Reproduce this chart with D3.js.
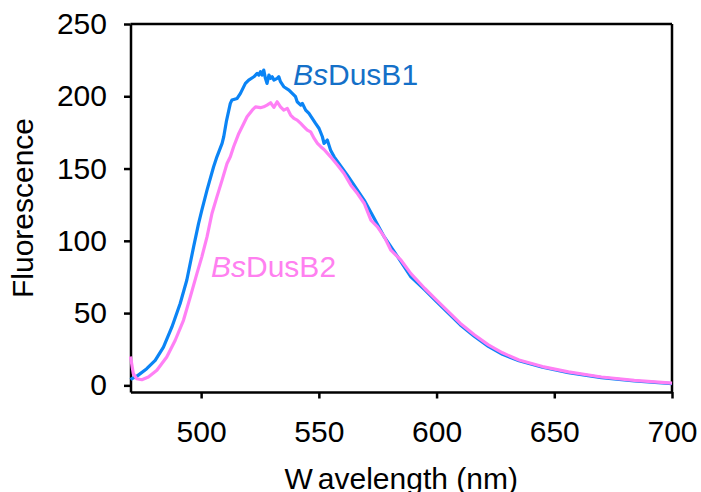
<!DOCTYPE html>
<html>
<head>
<meta charset="utf-8">
<script src="https://cdn.jsdelivr.net/npm/d3@7"></script>
<style>
  html, body { margin: 0; padding: 0; background: #fff; }
  svg { display: block; }
  text { font-family: "Liberation Sans", Arial, sans-serif; }
</style>
</head>
<body>
<svg id="chart" width="701" height="492"></svg>
<script>
// ---- Data ----
const wavelengthB1 = [470, 470.5, 472.6, 476.9, 480.5, 484.0, 487.6, 491.1, 493.9, 496.8, 498.9, 500.3, 502.5, 505.3, 506.7, 508.9, 509.6, 510.7,
  512.4, 513.1, 515.3, 516.7, 518.8, 520.2, 522.4, 523.8, 524.5, 525.2, 525.9, 526.6, 527.3, 528.0, 528.8, 529.5, 530.2, 530.9, 532.3, 533.0,
  533.7, 535.1, 537.3, 538.7, 540.1, 540.8, 542.3, 543.0, 544.4, 545.8, 547.2, 548.6, 550.1, 551.5, 552.2, 552.9, 553.6, 554.3, 555.0, 556.5,
  562.1, 569.3, 577.8, 583.5, 589.1, 595, 600, 605, 610, 616, 622, 628, 635, 645, 656, 670, 684, 700];
const fluorB1 = [4.0, 4.6, 6.2, 11.5, 17.3, 26.5, 40.4, 56.6, 72.7, 95.8, 111.9, 121.2, 135.0, 151.2, 158.1, 167.4, 172.0, 182.4,
  195.1, 197.4, 198.5, 202.0, 208.9, 211.2, 213.5, 215.8, 214.7, 217.0, 214.7, 218.1, 212.4, 208.9, 214.7, 212.4, 213.5, 211.2, 212.4, 213.5,
  210.1, 206.6, 204.3, 202.0, 199.7, 196.2, 193.9, 195.1, 190.4, 188.1, 184.7, 181.2, 177.7, 172.0, 167.4, 168.5, 169.7, 166.2, 162.7, 158.1,
  145.4, 128.0, 102.7, 88.9, 75.0, 66, 58, 50, 42, 34, 27, 21.5, 17, 12.5, 8.8, 5.3, 3.0, 1.2];

const wavelengthB2 = [470, 471.2, 472.6, 474.8, 477.6, 481.2, 485.4, 489.0, 492.5, 495.4, 498.2, 500.3, 502.5, 504.6, 506.7, 508.9, 511.0,
  512.4, 513.8, 516.0, 518.1, 519.5, 521.7, 523.1, 525.2, 526.6, 528.0, 529.5, 530.9, 532.3, 533.7, 535.1, 536.6, 538.0, 539.4, 540.8, 542.3,
  543.7, 545.1, 546.5, 548.0, 549.4, 550.8, 552.2, 555.0, 557.9, 560.7, 563.6, 566.4, 569.3, 572.1, 574.9, 577.8, 580.6, 584.9, 589.1,
  595, 600, 605, 610, 616, 622, 628, 635, 645, 656, 670, 684, 700];
const fluorB2 = [20.0, 8.1, 4.6, 3.9, 5.8, 10.4, 19.6, 31.2, 45.0, 61.2, 77.3, 88.9, 102.7, 118.9, 130.4, 142.0, 153.5,
  158.1, 165.1, 174.3, 181.2, 185.8, 190.4, 192.7, 192.1, 192.7, 193.9, 195.5, 192.3, 196.2, 192.7, 190.4, 191.6, 187.0, 184.7, 183.5, 181.2,
  178.9, 176.6, 175.4, 170.8, 167.4, 165.1, 163.2, 158.1, 152.4, 146.6, 138.5, 132.7, 125.8, 114.3, 109.7, 102.7, 93.5, 86.6, 77.3,
  67, 59, 51, 43, 35, 28, 22.5, 17.5, 13, 9.3, 5.8, 3.5, 1.6];

const xTicks = [500, 550, 600, 650, 700];
const yTicks = [0, 50, 100, 150, 200, 250];
const seriesNames = ["DusB1", "DusB2"];

// ---- Layout ----
const svg = d3.select("#chart");
const mLeft = 130.5, mRight = 672, mTop = 24, mBottom = 392;
const x = d3.scaleLinear().domain([470, 700]).range([mLeft, mRight]);
const y = d3.scaleLinear().domain([-4.6, 250]).range([mBottom, mTop]);
const FS = 30;

// frame (top & right)
svg.append("line").attr("x1", mLeft).attr("x2", mRight).attr("y1", mTop).attr("y2", mTop)
  .attr("stroke", "#000").attr("stroke-width", 2.5);
svg.append("line").attr("x1", mRight).attr("x2", mRight).attr("y1", mTop).attr("y2", mBottom)
  .attr("stroke", "#000").attr("stroke-width", 2.5);

// y axis
const yAxis = svg.append("g").attr("transform", `translate(${mLeft},0)`)
  .call(d3.axisLeft(y).tickValues(yTicks).tickSize(6.5).tickPadding(17).tickSizeOuter(0));
yAxis.select(".domain").attr("stroke", "#000").attr("stroke-width", 2.5);
yAxis.selectAll(".tick line").attr("stroke", "#000").attr("stroke-width", 2.5);
yAxis.selectAll(".tick text").attr("font-size", FS).attr("fill", "#000")
  .attr("font-family", "'Liberation Sans', Arial, sans-serif");

// x axis
const xAxis = svg.append("g").attr("transform", `translate(0,${mBottom})`)
  .call(d3.axisBottom(x).tickValues(xTicks).tickSize(6.5).tickPadding(22).tickSizeOuter(0));
xAxis.select(".domain").attr("stroke", "#000").attr("stroke-width", 2.5);
xAxis.selectAll(".tick line").attr("stroke", "#000").attr("stroke-width", 2.5);
xAxis.selectAll(".tick text").attr("font-size", FS).attr("fill", "#000")
  .attr("font-family", "'Liberation Sans', Arial, sans-serif");

// lines
const line = d3.line().x(d => x(d[0])).y(d => y(d[1]));
const d1 = wavelengthB1.map((w, i) => [w, fluorB1[i]]);
const d2 = wavelengthB2.map((w, i) => [w, fluorB2[i]]);
svg.append("path").datum(d1).attr("d", line).attr("fill", "none")
  .attr("stroke", "#0B84F5").attr("stroke-width", 3.2).attr("stroke-linejoin", "round");
svg.append("path").datum(d2).attr("d", line).attr("fill", "none")
  .attr("stroke", "#FF80F5").attr("stroke-width", 3.2).attr("stroke-linejoin", "round");

// series labels
const l1 = svg.append("text").attr("x", 293).attr("y", 85).attr("font-size", FS).attr("fill", "#1470C8");
l1.append("tspan").attr("font-style", "italic").text("Bs");
l1.append("tspan").text(seriesNames[0]);
const l2 = svg.append("text").attr("x", 211).attr("y", 277).attr("font-size", FS).attr("fill", "#FF80F0");
l2.append("tspan").attr("font-style", "italic").text("Bs");
l2.append("tspan").text(seriesNames[1]);

// axis titles
const xt = svg.append("text").attr("x", (mLeft + mRight) / 2).attr("y", 489)
  .attr("text-anchor", "middle").attr("font-size", FS).attr("fill", "#000");
xt.append("tspan").text("W");
xt.append("tspan").attr("dx", 6).text("avelength (nm)");
svg.append("text").attr("transform", `translate(33,${(mTop + mBottom) / 2}) rotate(-90)`)
  .attr("text-anchor", "middle").attr("font-size", FS).attr("fill", "#000").text("Fluorescence");
</script>
</body>
</html>
